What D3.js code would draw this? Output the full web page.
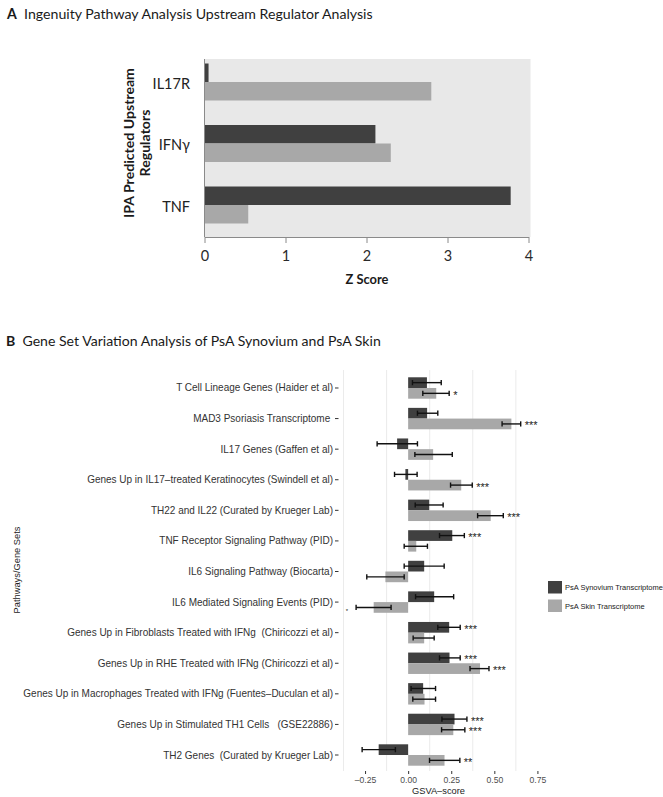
<!DOCTYPE html>
<html><head><meta charset="utf-8">
<script src="https://cdn.jsdelivr.net/npm/d3@7"></script>
<style>body{margin:0;background:#fff} text{white-space:pre}</style>
</head><body><svg id="c" width="663" height="797"></svg>
<script>
// ---------- Panel A data ----------
const regulators = ["IL17R", "IFNγ", "TNF"];
const zSynovium = [0.05, 2.11, 3.78];
const zSkin = [2.80, 2.30, 0.54];
const zTicks = [0, 1, 2, 3, 4];

// ---------- Panel B data ----------
const geneSets = [
  "T Cell Lineage Genes (Haider et al)",
  "MAD3 Psoriasis Transcriptome ",
  "IL17 Genes (Gaffen et al)",
  "Genes Up in IL17–treated Keratinocytes (Swindell et al)",
  "TH22 and IL22 (Curated by Krueger Lab)",
  "TNF Receptor Signaling Pathway (PID)",
  "IL6 Signaling Pathway (Biocarta)",
  "IL6 Mediated Signaling Events (PID)",
  "Genes Up in Fibroblasts Treated with IFNg  (Chiricozzi et al)",
  "Genes Up in RHE Treated with IFNg (Chiricozzi et al)",
  "Genes Up in Macrophages Treated with IFNg (Fuentes–Duculan et al)",
  "Genes Up in Stimulated TH1 Cells   (GSE22886)",
  "TH2 Genes  (Curated by Krueger Lab)"
];
const synMean = [0.109, 0.110, -0.064, -0.016, 0.122, 0.256, 0.093, 0.151, 0.238, 0.240, 0.087, 0.269, -0.171];
const synLo   = [0.025, 0.054, -0.180, -0.079, 0.041, 0.182, -0.023, 0.043, 0.172, 0.182, 0.017, 0.196, -0.267];
const synHi   = [0.192, 0.172, 0.054, 0.052, 0.203, 0.326, 0.209, 0.264, 0.302, 0.302, 0.159, 0.341, -0.074];
const skinMean = [0.163, 0.599, 0.145, 0.308, 0.479, 0.047, -0.132, -0.200, 0.093, 0.417, 0.095, 0.262, 0.211];
const skinLo   = [0.085, 0.545, 0.039, 0.246, 0.403, -0.023, -0.240, -0.302, 0.029, 0.359, 0.027, 0.194, 0.124];
const skinHi   = [0.238, 0.653, 0.256, 0.372, 0.552, 0.112, -0.023, -0.099, 0.151, 0.469, 0.159, 0.329, 0.300];
const synStars  = ["", "", "", "", "", "***", "", "", "***", "***", "", "***", ""];
const skinStars = ["*", "***", "", "***", "***", "", "", "*", "", "***", "", "***", "**"];
const gsvaTicks = [-0.25, 0, 0.25, 0.5, 0.75];
const gsvaTickLabels = ["–0.25", "0.00", "0.25", "0.50", "0.75"];
const gsvaGrid = [-0.375, -0.125, 0.125, 0.375, 0.625];
const seriesNames = ["PsA Synovium Transcriptome", "PsA Skin Transcriptome"];

const DARK = "#404040", LIGHT = "#a8a8a8";
const svg = d3.select("#c");
const fA = "Lato, 'Open Sans', sans-serif";
const fB = "'Liberation Sans', Arial, Helvetica, sans-serif";
function fit(sel, target) {
  const fs = parseFloat(sel.attr("font-size"));
  const w = sel.node().getComputedTextLength();
  const nf = fs * target / w;
  sel.attr("font-size", nf);
  return nf;
}

// ================= PANEL A =================
const tA = svg.append("text").attr("x", 7).attr("y", 19)
  .attr("font-family", fA).attr("font-size", 14).attr("fill", "#1a1a1a");
tA.append("tspan").attr("font-weight", "bold").text("A");
tA.append("tspan").text("  Ingenuity Pathway Analysis Upstream Regulator Analysis");
fit(tA, 366);

const xA = d3.scaleLinear().domain([0, 4]).range([204.5, 528.5]);
const yA = d3.scaleBand().domain(regulators).range([51.25, 235.75]);
const subA = d3.scaleBand().domain([0, 1]).range([12.25, 49.25]);

svg.append("rect").attr("x", 204.5).attr("y", 59).attr("width", 326).attr("height", 178)
  .attr("fill", "#e8e8e8");

const gA = svg.append("g");
[zSynovium, zSkin].forEach((vals, s) => {
  gA.selectAll(null).data(regulators).enter().append("rect")
    .attr("x", xA(0))
    .attr("y", d => yA(d) + subA(s))
    .attr("width", (d, i) => xA(vals[i]) - xA(0))
    .attr("height", subA.bandwidth())
    .attr("fill", s === 0 ? DARK : LIGHT);
});

const axA = svg.append("g").attr("transform", "translate(0,237)")
  .call(d3.axisBottom(xA).tickValues(zTicks).tickSizeInner(6).tickSizeOuter(0).tickFormat(d3.format("d")));
axA.select(".domain").attr("stroke", "#8a8a8a");
axA.selectAll(".tick line").attr("stroke", "#8a8a8a");
axA.selectAll(".tick text").attr("font-family", fA).attr("font-size", 14.5).attr("fill", "#2a2a2a").attr("y", 14);
svg.append("line").attr("x1", 204.5).attr("x2", 204.5).attr("y1", 59).attr("y2", 237).attr("stroke", "#8a8a8a");

const labA = svg.append("g").selectAll("text").data(regulators).enter().append("text")
  .attr("x", 190).attr("y", d => yA(d) + yA.bandwidth() / 2 + 1)
  .attr("text-anchor", "end").attr("dominant-baseline", "central")
  .attr("font-family", fA).attr("font-size", 14.5).attr("fill", "#222").text(d => d);

const yt = svg.append("g").attr("transform", "translate(135,143) rotate(-90)");
const yt1 = yt.append("text").attr("x", 0).attr("y", -7).attr("text-anchor", "middle").attr("dominant-baseline", "central")
  .attr("font-family", fA).attr("font-weight", "bold").attr("font-size", 14).attr("fill", "#1a1a1a")
  .text("IPA Predicted Upstream");
const fsY = fit(yt1, 150);
yt.append("text").attr("x", 0).attr("y", 9).attr("text-anchor", "middle").attr("dominant-baseline", "central")
  .attr("font-family", fA).attr("font-weight", "bold").attr("font-size", fsY).attr("fill", "#1a1a1a")
  .text("Regulators");

const zs = svg.append("text").attr("x", 367).attr("y", 279).attr("text-anchor", "middle").attr("dominant-baseline", "central")
  .attr("font-family", fA).attr("font-weight", "bold").attr("font-size", 14).attr("fill", "#1a1a1a").text("Z Score");
fit(zs, 43);

// ================= PANEL B =================
const tB = svg.append("text").attr("x", 6).attr("y", 346)
  .attr("font-family", fA).attr("font-size", 14).attr("fill", "#1a1a1a");
tB.append("tspan").attr("font-weight", "bold").text("B");
tB.append("tspan").text("  Gene Set Variation Analysis of PsA Synovium and PsA Skin");
fit(tB, 375);

const xB = d3.scaleLinear().domain([-0.407, 0.765]).range([338, 540]);
const yB = d3.scaleBand().domain(geneSets).range([372.7, 770.3]);
const st = yB.step();
const subB = d3.scaleBand().domain([0, 1]).range([st * 0.15, st * 0.85]);
const PT = 370, PB = 771;

svg.append("g").selectAll("line").data(gsvaGrid).enter().append("line")
  .attr("x1", d => xB(d)).attr("x2", d => xB(d)).attr("y1", PT).attr("y2", PB)
  .attr("stroke", "#ebebeb").attr("stroke-width", 1);

const series = [
  {mean: synMean, lo: synLo, hi: synHi, stars: synStars, col: DARK},
  {mean: skinMean, lo: skinLo, hi: skinHi, stars: skinStars, col: LIGHT}
];
const gB = svg.append("g");
series.forEach((S, s) => {
  gB.selectAll(null).data(geneSets).enter().append("rect")
    .attr("x", (d, i) => Math.min(xB(0), xB(S.mean[i])))
    .attr("y", d => yB(d) + subB(s))
    .attr("width", (d, i) => Math.abs(xB(S.mean[i]) - xB(0)))
    .attr("height", subB.bandwidth())
    .attr("fill", S.col);
});
series.forEach((S, s) => {
  const cy = d => yB(d) + subB(s) + subB.bandwidth() / 2;
  const eg = gB.selectAll(null).data(geneSets).enter().append("g").attr("stroke", "#111").attr("stroke-width", 1.4);
  eg.append("line").attr("x1", (d, i) => xB(S.lo[i])).attr("x2", (d, i) => xB(S.hi[i])).attr("y1", cy).attr("y2", cy);
  eg.append("line").attr("x1", (d, i) => xB(S.lo[i])).attr("x2", (d, i) => xB(S.lo[i])).attr("y1", d => cy(d) - 2.6).attr("y2", d => cy(d) + 2.6);
  eg.append("line").attr("x1", (d, i) => xB(S.hi[i])).attr("x2", (d, i) => xB(S.hi[i])).attr("y1", d => cy(d) - 2.6).attr("y2", d => cy(d) + 2.6);
  gB.selectAll(null).data(geneSets).enter().append("text")
    .attr("x", (d, i) => S.mean[i] >= 0 ? xB(S.hi[i]) + 4 : xB(S.lo[i]) - 8)
    .attr("y", d => cy(d) + 5.5)
    .attr("text-anchor", (d, i) => S.mean[i] >= 0 ? "start" : "end")
    .attr("font-family", fB).attr("font-size", (d, i) => S.mean[i] >= 0 ? 11 : 6).attr("fill", "#222")
    .text((d, i) => S.stars[i]);
});

// y axis labels B
const labB = svg.append("g").selectAll("text").data(geneSets).enter().append("text")
  .attr("x", 333).attr("y", d => yB(d) + st / 2)
  .attr("text-anchor", "end").attr("dominant-baseline", "central")
  .attr("font-family", fB).attr("font-size", 9.5).attr("fill", "#333").text(d => d);
const longest = labB.filter((d, i) => i === 10);
const fsB = fit(longest, 310);
labB.attr("font-size", fsB);
svg.append("g").selectAll("line").data(geneSets).enter().append("line")
  .attr("x1", 335).attr("x2", 338.5).attr("y1", d => yB(d) + st / 2).attr("y2", d => yB(d) + st / 2)
  .attr("stroke", "#333").attr("stroke-width", 1);

// x axis B
const axB = svg.append("g").attr("transform", `translate(0,${PB})`)
  .call(d3.axisBottom(xB).tickValues(gsvaTicks).tickSizeInner(3).tickSizeOuter(0)
    .tickFormat((d, i) => gsvaTickLabels[i]));
axB.select(".domain").remove();
axB.selectAll(".tick line").attr("stroke", "#333");
axB.selectAll(".tick text").attr("font-family", fB).attr("font-size", 8.6).attr("fill", "#4d4d4d").attr("y", 6);

const gx = svg.append("text").attr("x", 438.5).attr("y", 791).attr("text-anchor", "middle").attr("dominant-baseline", "central")
  .attr("font-family", fB).attr("font-size", 10).attr("fill", "#222").text("GSVA–score");
fit(gx, 53);

const yTitleB = svg.append("text").attr("transform", "translate(17,570) rotate(-90)")
  .attr("text-anchor", "middle").attr("dominant-baseline", "central")
  .attr("font-family", fB).attr("font-size", 9).attr("fill", "#222").text("Pathways/Gene Sets");
fit(yTitleB, 87);

// legend
const lg = svg.append("g");
const legY = [581, 599.5];
seriesNames.forEach((n, i) => {
  lg.append("rect").attr("x", 548).attr("y", legY[i]).attr("width", 14).attr("height", 12.5)
    .attr("fill", i === 0 ? DARK : LIGHT);
  const t = lg.append("text").attr("x", 565).attr("y", legY[i] + 6.5).attr("dominant-baseline", "central")
    .attr("font-family", fB).attr("font-size", 8).attr("fill", "#222").text(n);
  if (i === 0) fit(t, 98);
  else t.attr("font-size", lg.select("text").attr("font-size"));
});
</script></body></html>
